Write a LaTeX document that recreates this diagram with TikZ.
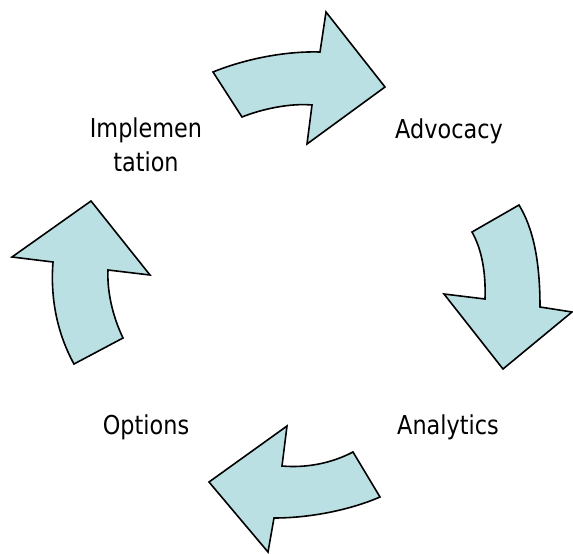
\documentclass[tikz,border=0pt]{standalone}
\usepackage{fontspec}
\setmainfont[FakeStretch=0.86]{DejaVu Sans}
\definecolor{arrowfill}{RGB}{187,224,227}
\tikzset{
  cyclearrow/.style={draw=black,fill=arrowfill,line width=1.6pt,line join=miter},
  cyclelabel/.style={font=\fontsize{26}{34}\selectfont,align=center,anchor=base,inner sep=0pt}
}
\begin{document}
\begin{tikzpicture}[x=1pt,y=-1pt]
\useasboundingbox (0,0) rectangle (573,554);

% the four curved arrows
\filldraw[cyclearrow] (213,72) -- (242,117) .. controls (262,109) and (290,103) .. (312,105)
  -- (307,144) -- (385,87) -- (326,12) -- (320,52) .. controls (285,51) and (245,59) .. (213,72) -- cycle;
\filldraw[cyclearrow] (472,232) -- (519,205) .. controls (533,228) and (540,260) .. (540,307)
  -- (572,312) -- (503,369) -- (444,294) -- (485,299) .. controls (486,270) and (481,248) .. (472,232) -- cycle;
\filldraw[cyclearrow] (353,452) -- (380,497) .. controls (350,510) and (310,518) .. (274,518)
  -- (268,552) -- (209,482) -- (287,426) -- (282,466) .. controls (305,468) and (330,464) .. (353,452) -- cycle;
\filldraw[cyclearrow] (74,364) -- (123,338) .. controls (112,315) and (107,290) .. (108,270)
  -- (150,275) -- (91,201) -- (12,257) -- (53,262) .. controls (50,300) and (58,335) .. (74,364) -- cycle;

% labels
\node[cyclelabel] (advocacy) at (449,138) {Advocacy};
\node[cyclelabel] (analytics) at (448,434) {Analytics};
\node[cyclelabel] (options) at (146,434) {Options};
\node[cyclelabel] (implementation) at (146,171) {Implemen\\tation};
\end{tikzpicture}
\end{document}
